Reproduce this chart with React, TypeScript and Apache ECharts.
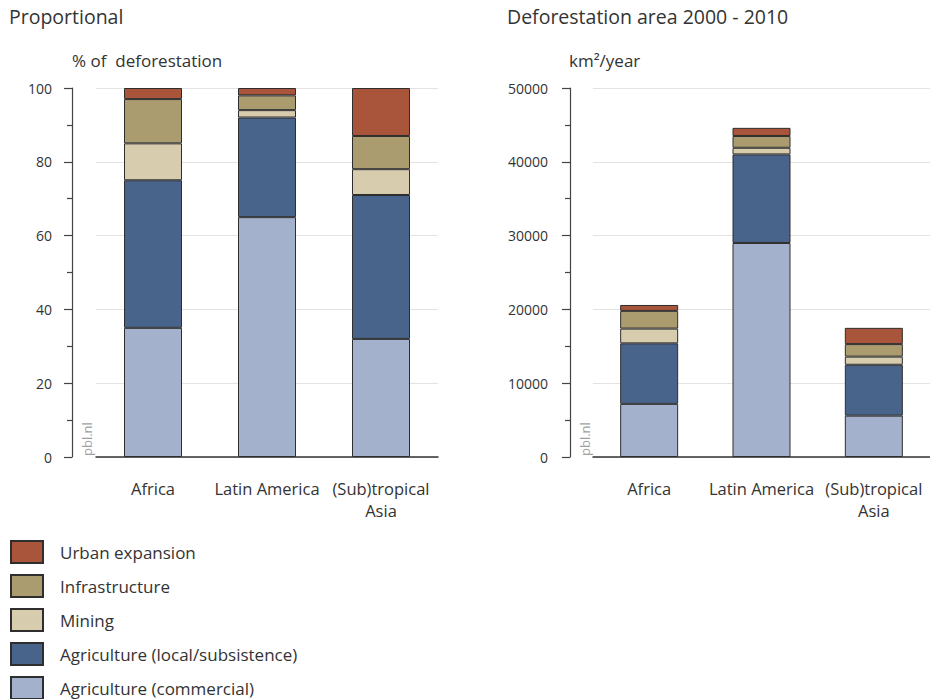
import React, { useEffect, useRef } from "react";
import * as echarts from "echarts";

const categories = ["Africa", "Latin America", "(Sub)tropical\nAsia"];
const seriesNames = [
  "Agriculture (commercial)",
  "Agriculture (local/subsistence)",
  "Mining",
  "Infrastructure",
  "Urban expansion",
];
const legendOrder = [
  "Urban expansion",
  "Infrastructure",
  "Mining",
  "Agriculture (local/subsistence)",
  "Agriculture (commercial)",
];
const colors = ["#a4b1cd", "#48648b", "#d7ccad", "#ab9c70", "#a9553b"];

// Proportional (% of deforestation)
const pctCommercial = [35, 65, 32];
const pctLocal = [40, 27, 39];
const pctMining = [10, 2, 7];
const pctInfra = [12, 4, 9];
const pctUrban = [3, 2, 13];

// Deforestation area 2000-2010 (km2/year)
const areaCommercial = [7200, 29000, 5600];
const areaLocal = [8200, 12000, 6900];
const areaMining = [2000, 900, 1100];
const areaInfra = [2400, 1600, 1700];
const areaUrban = [800, 1100, 2200];

const pctData = [pctCommercial, pctLocal, pctMining, pctInfra, pctUrban];
const areaData = [areaCommercial, areaLocal, areaMining, areaInfra, areaUrban];

const FONT = "Open Sans";

export default function App() {
  const ref = useRef<HTMLDivElement>(null);
  useEffect(() => {
    if (!ref.current) return;
    const chart = echarts.init(ref.current, null, { renderer: "svg" });
    const yAxisCommon = (max: number, interval: number, offset: number, margin: number) => ({
      type: "value",
      min: 0,
      max,
      interval,
      offset,
      axisLine: { show: true, lineStyle: { color: "#444", width: 1.2 } },
      axisTick: { show: true, length: 8, lineStyle: { color: "#444", width: 1.2 } },
      minorTick: { show: true, splitNumber: 2, length: 5, lineStyle: { color: "#444", width: 1.2 } },
      axisLabel: {
        fontFamily: FONT,
        fontSize: 14,
        color: "#333",
        margin,
        formatter: (v: number) => String(v),
      },
      splitLine: { show: true, lineStyle: { color: "#e3e3e3", width: 1 } },
    });
    const xAxisCommon = (gridIndex: number) => ({
      type: "category",
      gridIndex,
      data: categories,
      axisLine: { show: true, lineStyle: { color: "#333", width: 1.5 } },
      axisTick: { show: false },
      axisLabel: {
        fontFamily: FONT,
        fontSize: 16.5,
        color: "#333",
        margin: 20,
        lineHeight: 22,
        interval: 0,
      },
    });
    const series: any[] = [];
    seriesNames.forEach((name, i) => {
      series.push({
        name,
        type: "bar",
        stack: "left",
        xAxisIndex: 0,
        yAxisIndex: 0,
        barWidth: 58,
        data: pctData[i],
        itemStyle: { color: colors[i], borderColor: "#2e2e2e", borderWidth: 1 },
      });
      series.push({
        name,
        type: "bar",
        stack: "right",
        xAxisIndex: 1,
        yAxisIndex: 1,
        barWidth: 58,
        data: areaData[i],
        itemStyle: { color: colors[i], borderColor: "#2e2e2e", borderWidth: 1 },
      });
    });
    chart.setOption({
      animation: false,
      grid: [
        { left: 96, width: 342, top: 88, height: 369 },
        { left: 593, width: 341, top: 88, height: 369 },
      ],
      xAxis: [xAxisCommon(0), xAxisCommon(1)],
      yAxis: [
        { ...yAxisCommon(100, 20, 24, 20), gridIndex: 0 },
        { ...yAxisCommon(50000, 10000, 23, 22), gridIndex: 1 },
      ],
      legend: {
        data: legendOrder,
        orient: "vertical",
        left: 10,
        top: 540,
        height: 200,
        padding: 0,
        icon: "rect",
        itemWidth: 32,
        itemHeight: 22,
        itemGap: 10,
        textStyle: {
          fontFamily: FONT,
          fontSize: 17,
          lineHeight: 20,
          color: "#333",
          padding: [0, 0, 0, 12],
        },
        selectedMode: false,
      },
      graphic: [
        { type: "text", left: 9, top: 6, style: { text: "Proportional", font: `19.5px "${FONT}"`, fill: "#333" } },
        { type: "text", left: 507, top: 6, style: { text: "Deforestation area 2000 - 2010", font: `19.5px "${FONT}"`, fill: "#333" } },
        { type: "text", left: 72, top: 52, style: { text: "% of  deforestation", font: `17px "${FONT}"`, fill: "#333" } },
        { type: "text", left: 569, top: 52, style: { text: "km²/year", font: `17px "${FONT}"`, fill: "#333" } },
        {
          type: "text",
          x: 93,
          y: 456,
          rotation: Math.PI / 2,
          style: { text: "pbl.nl", font: `13px "${FONT}"`, fill: "#a0a0a0", textAlign: "left", textVerticalAlign: "bottom" },
        },
        {
          type: "text",
          x: 591,
          y: 456,
          rotation: Math.PI / 2,
          style: { text: "pbl.nl", font: `13px "${FONT}"`, fill: "#a0a0a0", textAlign: "left", textVerticalAlign: "bottom" },
        },
      ],
      series,
    });
    return () => chart.dispose();
  }, []);
  return (
    <div
      ref={ref}
      style={{ position: "fixed", left: 0, top: 0, width: 930, height: 699, background: "#fff" }}
    />
  );
}
